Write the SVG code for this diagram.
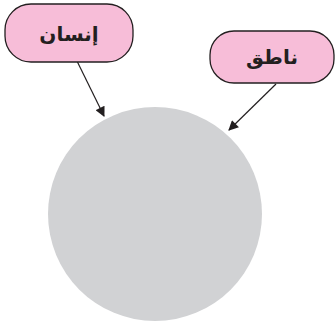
<svg xmlns="http://www.w3.org/2000/svg" width="336" height="327" viewBox="0 0 336 327">
<style>
.box{fill:#f7bdd8;stroke:#231f20;stroke-width:1.3}
.lbl{font-family:"DejaVu Sans",sans-serif;font-weight:bold;font-size:20px;fill:#231f20;text-anchor:middle}
.conn{stroke:#231f20;stroke-width:1.2;fill:none}
</style>
<defs>
<marker id="ah" viewBox="0 0 10 10" refX="9" refY="5" markerWidth="11" markerHeight="10" orient="auto" markerUnits="userSpaceOnUse">
<path d="M0,0 L10,5 L0,10 z" fill="#231f20"/>
</marker>
</defs>
<g id="circle"><circle cx="155" cy="214" r="107" fill="#d1d2d4"/></g>
<g id="connectors">
<line class="conn" x1="75" y1="57" x2="104" y2="116" marker-end="url(#ah)"/>
<line class="conn" x1="276" y1="84" x2="229" y2="130" marker-end="url(#ah)"/>
</g>
<g id="insan"><rect class="box" x="5" y="4" width="128" height="58" rx="26"/><text class="lbl" x="69" y="41">إنسان</text></g>
<g id="natiq"><rect class="box" x="210" y="31" width="124" height="52" rx="24"/><text class="lbl" x="272" y="64">ناطق</text></g>
</svg>
